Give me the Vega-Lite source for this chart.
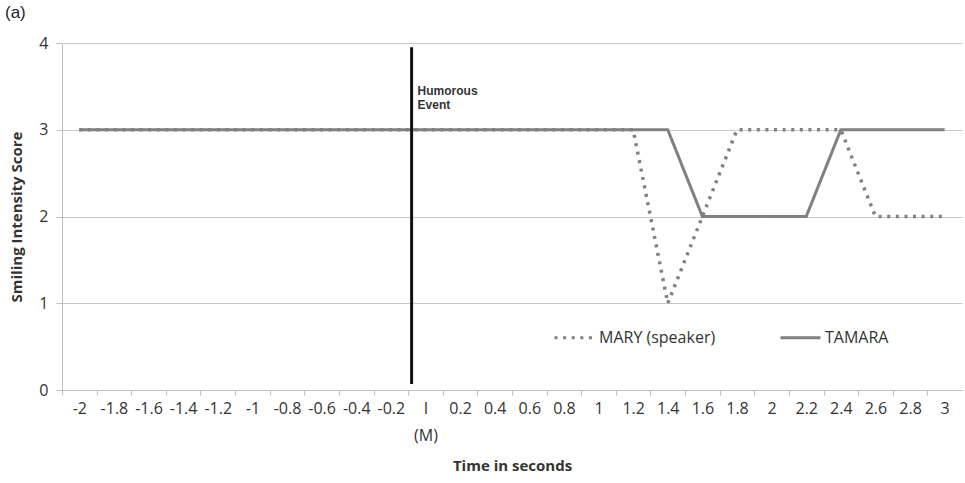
{
  "$schema": "https://vega.github.io/schema/vega-lite/v6.json",
  "width": 900,
  "height": 347,
  "autosize": "none",
  "padding": {"left": 62, "top": 43, "right": 3, "bottom": 93},
  "background": "white",
  "config": {"view": {"stroke": null}, "font": "Open Sans", "axis": {"labelOverlap": false}},
  "title": {"text": "(a)", "anchor": "start", "frame": "group", "dx": -57, "offset": 13, "font": "Liberation Sans", "fontSize": 17, "fontWeight": "normal", "color": "#222222"},
  "datasets": {
    "scores": [
      {"t": -2, "score": 3, "who": "TAMARA"}, {"t": -1.8, "score": 3, "who": "TAMARA"}, {"t": -1.6, "score": 3, "who": "TAMARA"}, {"t": -1.4, "score": 3, "who": "TAMARA"}, {"t": -1.2, "score": 3, "who": "TAMARA"}, {"t": -1, "score": 3, "who": "TAMARA"}, {"t": -0.8, "score": 3, "who": "TAMARA"}, {"t": -0.6, "score": 3, "who": "TAMARA"}, {"t": -0.4, "score": 3, "who": "TAMARA"}, {"t": -0.2, "score": 3, "who": "TAMARA"}, {"t": 0, "score": 3, "who": "TAMARA"}, {"t": 0.2, "score": 3, "who": "TAMARA"}, {"t": 0.4, "score": 3, "who": "TAMARA"}, {"t": 0.6, "score": 3, "who": "TAMARA"}, {"t": 0.8, "score": 3, "who": "TAMARA"}, {"t": 1, "score": 3, "who": "TAMARA"}, {"t": 1.2, "score": 3, "who": "TAMARA"}, {"t": 1.4, "score": 3, "who": "TAMARA"}, {"t": 1.6, "score": 2, "who": "TAMARA"}, {"t": 1.8, "score": 2, "who": "TAMARA"}, {"t": 2, "score": 2, "who": "TAMARA"}, {"t": 2.2, "score": 2, "who": "TAMARA"}, {"t": 2.4, "score": 3, "who": "TAMARA"}, {"t": 2.6, "score": 3, "who": "TAMARA"}, {"t": 2.8, "score": 3, "who": "TAMARA"}, {"t": 3, "score": 3, "who": "TAMARA"},
      {"t": -2, "score": 3, "who": "MARY (speaker)"}, {"t": -1.8, "score": 3, "who": "MARY (speaker)"}, {"t": -1.6, "score": 3, "who": "MARY (speaker)"}, {"t": -1.4, "score": 3, "who": "MARY (speaker)"}, {"t": -1.2, "score": 3, "who": "MARY (speaker)"}, {"t": -1, "score": 3, "who": "MARY (speaker)"}, {"t": -0.8, "score": 3, "who": "MARY (speaker)"}, {"t": -0.6, "score": 3, "who": "MARY (speaker)"}, {"t": -0.4, "score": 3, "who": "MARY (speaker)"}, {"t": -0.2, "score": 3, "who": "MARY (speaker)"}, {"t": 0, "score": 3, "who": "MARY (speaker)"}, {"t": 0.2, "score": 3, "who": "MARY (speaker)"}, {"t": 0.4, "score": 3, "who": "MARY (speaker)"}, {"t": 0.6, "score": 3, "who": "MARY (speaker)"}, {"t": 0.8, "score": 3, "who": "MARY (speaker)"}, {"t": 1, "score": 3, "who": "MARY (speaker)"}, {"t": 1.2, "score": 3, "who": "MARY (speaker)"}, {"t": 1.4, "score": 1, "who": "MARY (speaker)"}, {"t": 1.6, "score": 2, "who": "MARY (speaker)"}, {"t": 1.8, "score": 3, "who": "MARY (speaker)"}, {"t": 2, "score": 3, "who": "MARY (speaker)"}, {"t": 2.2, "score": 3, "who": "MARY (speaker)"}, {"t": 2.4, "score": 3, "who": "MARY (speaker)"}, {"t": 2.6, "score": 2, "who": "MARY (speaker)"}, {"t": 2.8, "score": 2, "who": "MARY (speaker)"}, {"t": 3, "score": 2, "who": "MARY (speaker)"}
    ],
    "event": [{"t": -0.08, "y0": 0.07, "y1": 3.95, "label": "Humorous\nEvent", "ly": 3.5}]
  },
  "layer": [
    {
      "data": {"name": "scores"},
      "transform": [{"filter": "datum.who == 'TAMARA'"}],
      "mark": {"type": "line", "color": "#808080", "strokeWidth": 3},
      "encoding": {
        "x": {"field": "t", "type": "quantitative", "title": "Time in seconds",
          "scale": {"domain": [-2.1, 3.1], "nice": false, "zero": false},
          "axis": {"values": [-2, -1.8, -1.6, -1.4, -1.2, -1, -0.8, -0.6, -0.4, -0.2, 0, 0.2, 0.4, 0.6, 0.8, 1, 1.2, 1.4, 1.6, 1.8, 2, 2.2, 2.4, 2.6, 2.8, 3],
            "tickCount": 40,
            "grid": false, "tickOffset": -17.31, "labelOffset": 17.31, "tickSize": 5, "tickColor": "#bfbfbf", "domainColor": "#bfbfbf",
            "labelExpr": "datum.value == 0 ? ['I','(M)'] : '' + datum.value",
            "labelFontSize": 16, "labelPadding": 5, "labelLineHeight": 27, "labelColor": "#333333", "labelFlush": false, "labelOverlap": false, "labelBound": false,
            "titleFontSize": 15, "titleFontWeight": "bold", "titleColor": "#333333", "titlePadding": 15}},
        "y": {"field": "score", "type": "quantitative", "title": "Smiling Intensity Score",
          "scale": {"domain": [0, 4], "nice": false},
          "axis": {"values": [0, 1, 2, 3, 4], "tickCount": 10, "format": "d", "grid": true, "gridColor": "#c8c8c8", "tickSize": 6, "tickColor": "#bfbfbf", "domainColor": "#bfbfbf",
            "labelFontSize": 16, "labelPadding": 8, "labelColor": "#333333",
            "titleFontSize": 15, "titleFontWeight": "bold", "titleColor": "#333333", "titlePadding": 14}},
        "strokeDash": {"field": "who", "type": "nominal",
          "scale": {"domain": ["MARY (speaker)", "TAMARA"], "range": [[3, 5.6], [1, 0]]},
          "legend": {"orient": "none", "legendX": 491, "legendY": 273, "direction": "horizontal", "title": null,
            "symbolType": "stroke", "symbolSize": 1600, "symbolStrokeWidth": 3, "symbolStrokeColor": "#808080",
            "labelFontSize": 16, "labelColor": "#333333", "columnPadding": 58, "labelOffset": 3, "padding": 0}}
      }
    },
    {
      "data": {"name": "scores"},
      "transform": [{"filter": "datum.who == 'MARY (speaker)'"}],
      "mark": {"type": "line", "color": "#808080", "strokeWidth": 3.5},
      "encoding": {
        "x": {"field": "t", "type": "quantitative", "title": "Time in seconds"},
        "y": {"field": "score", "type": "quantitative", "title": "Smiling Intensity Score"},
        "strokeDash": {"field": "who", "type": "nominal"}
      }
    },
    {
      "data": {"name": "event"},
      "mark": {"type": "rule", "color": "#111111", "strokeWidth": 3},
      "encoding": {
        "x": {"field": "t", "type": "quantitative", "title": "Time in seconds"},
        "y": {"field": "y0", "type": "quantitative", "title": "Smiling Intensity Score"},
        "y2": {"field": "y1"}
      }
    },
    {
      "data": {"name": "event"},
      "mark": {"type": "text", "align": "left", "baseline": "top", "dx": 6, "font": "Liberation Sans", "fontWeight": "bold", "fontSize": 12, "lineBreak": "\n", "lineHeight": 14, "color": "#333333"},
      "encoding": {
        "x": {"field": "t", "type": "quantitative", "title": "Time in seconds"},
        "y": {"field": "ly", "type": "quantitative", "title": "Smiling Intensity Score"},
        "text": {"field": "label"}
      }
    }
  ]
}
